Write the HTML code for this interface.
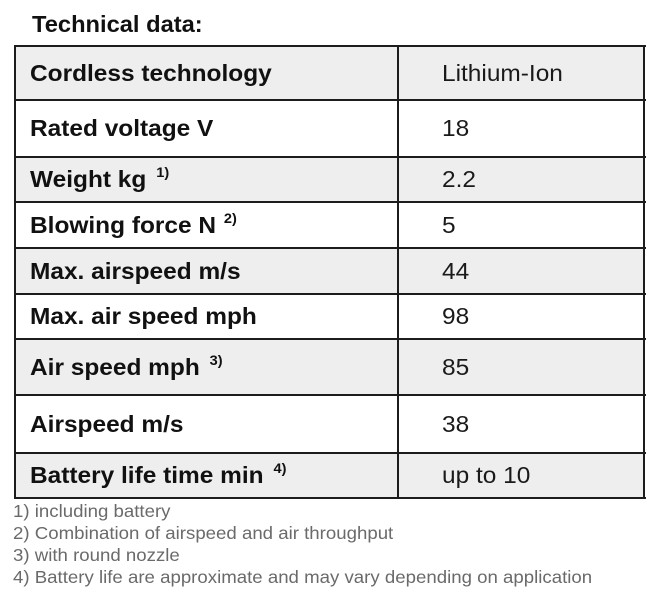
<!DOCTYPE html>
<html>
<head>
<meta charset="utf-8">
<style>
  html, body { margin:0; padding:0; background:#ffffff; }
  body { width:646px; height:600px; position:relative; overflow:hidden;
         font-family:"Liberation Sans", Arial, sans-serif; }
  .title { position:absolute; left:32px; top:11px; font-size:23px; font-weight:bold;
           line-height:26px; color:#111; transform:scaleX(1.03); transform-origin:left center; white-space:nowrap; }
  .row { position:absolute; left:15px; width:630px; }
  .gray { background:#eeeeee; }
  .cell { position:absolute; top:0; bottom:0; display:flex; align-items:center; white-space:nowrap; }
  .c1 { left:15px; }
  .c2 { left:427px; }
  .t { display:inline-block; font-size:23.5px; transform:scaleX(1.04); transform-origin:left center; line-height:27px; }
  .b { font-weight:bold; color:#111; }
  .v { color:#1a1a1a; }
  .sup { font-size:14px; font-weight:bold; line-height:0; position:relative; top:-10px; margin-left:3px; }
  .hl { position:absolute; left:14px; width:632px; height:2px; background:#1c1c1c; }
  .vl { position:absolute; top:45px; height:454px; width:2px; background:#1c1c1c; }
  .foot { position:absolute; left:13px; top:500px; font-size:17.5px; line-height:22px; color:#6a6a6a;
          transform:scaleX(1.065); transform-origin:left top; white-space:nowrap; }
</style>
</head>
<body>
  <div class="title">Technical data:</div>

  <div class="row gray" style="top:46px;height:54px;">
    <div class="cell c1"><span class="t b">Cordless technology</span></div>
    <div class="cell c2"><span class="t v">Lithium-Ion</span></div>
  </div>
  <div class="row" style="top:100px;height:57px;">
    <div class="cell c1"><span class="t b">Rated voltage V</span></div>
    <div class="cell c2"><span class="t v">18</span></div>
  </div>
  <div class="row gray" style="top:157px;height:45px;">
    <div class="cell c1"><span class="t b">Weight kg <span class="sup">1)</span></span></div>
    <div class="cell c2"><span class="t v">2.2</span></div>
  </div>
  <div class="row" style="top:202px;height:46px;">
    <div class="cell c1"><span class="t b">Blowing force N <span class="sup" style="margin-left:1px">2)</span></span></div>
    <div class="cell c2"><span class="t v">5</span></div>
  </div>
  <div class="row gray" style="top:248px;height:46px;">
    <div class="cell c1"><span class="t b">Max. airspeed m/s</span></div>
    <div class="cell c2"><span class="t v">44</span></div>
  </div>
  <div class="row" style="top:294px;height:45px;">
    <div class="cell c1"><span class="t b">Max. air speed mph</span></div>
    <div class="cell c2"><span class="t v">98</span></div>
  </div>
  <div class="row gray" style="top:339px;height:56px;">
    <div class="cell c1"><span class="t b">Air speed mph <span class="sup">3)</span></span></div>
    <div class="cell c2"><span class="t v">85</span></div>
  </div>
  <div class="row" style="top:395px;height:58px;">
    <div class="cell c1"><span class="t b">Airspeed m/s</span></div>
    <div class="cell c2"><span class="t v">38</span></div>
  </div>
  <div class="row gray" style="top:453px;height:45px;">
    <div class="cell c1"><span class="t b">Battery life time min <span class="sup">4)</span></span></div>
    <div class="cell c2"><span class="t v">up to 10</span></div>
  </div>

  <div class="hl" style="top:45px;"></div>
  <div class="hl" style="top:99px;"></div>
  <div class="hl" style="top:156px;"></div>
  <div class="hl" style="top:201px;"></div>
  <div class="hl" style="top:247px;"></div>
  <div class="hl" style="top:293px;"></div>
  <div class="hl" style="top:338px;"></div>
  <div class="hl" style="top:394px;"></div>
  <div class="hl" style="top:452px;"></div>
  <div class="hl" style="top:497px;"></div>

  <div class="vl" style="left:14px;"></div>
  <div class="vl" style="left:397px;"></div>
  <div class="vl" style="left:643px;"></div>

  <div class="foot">
    1) including battery<br>
    2) Combination of airspeed and air throughput<br>
    3) with round nozzle<br>
    4) Battery life are approximate and may vary depending on application
  </div>
</body>
</html>
